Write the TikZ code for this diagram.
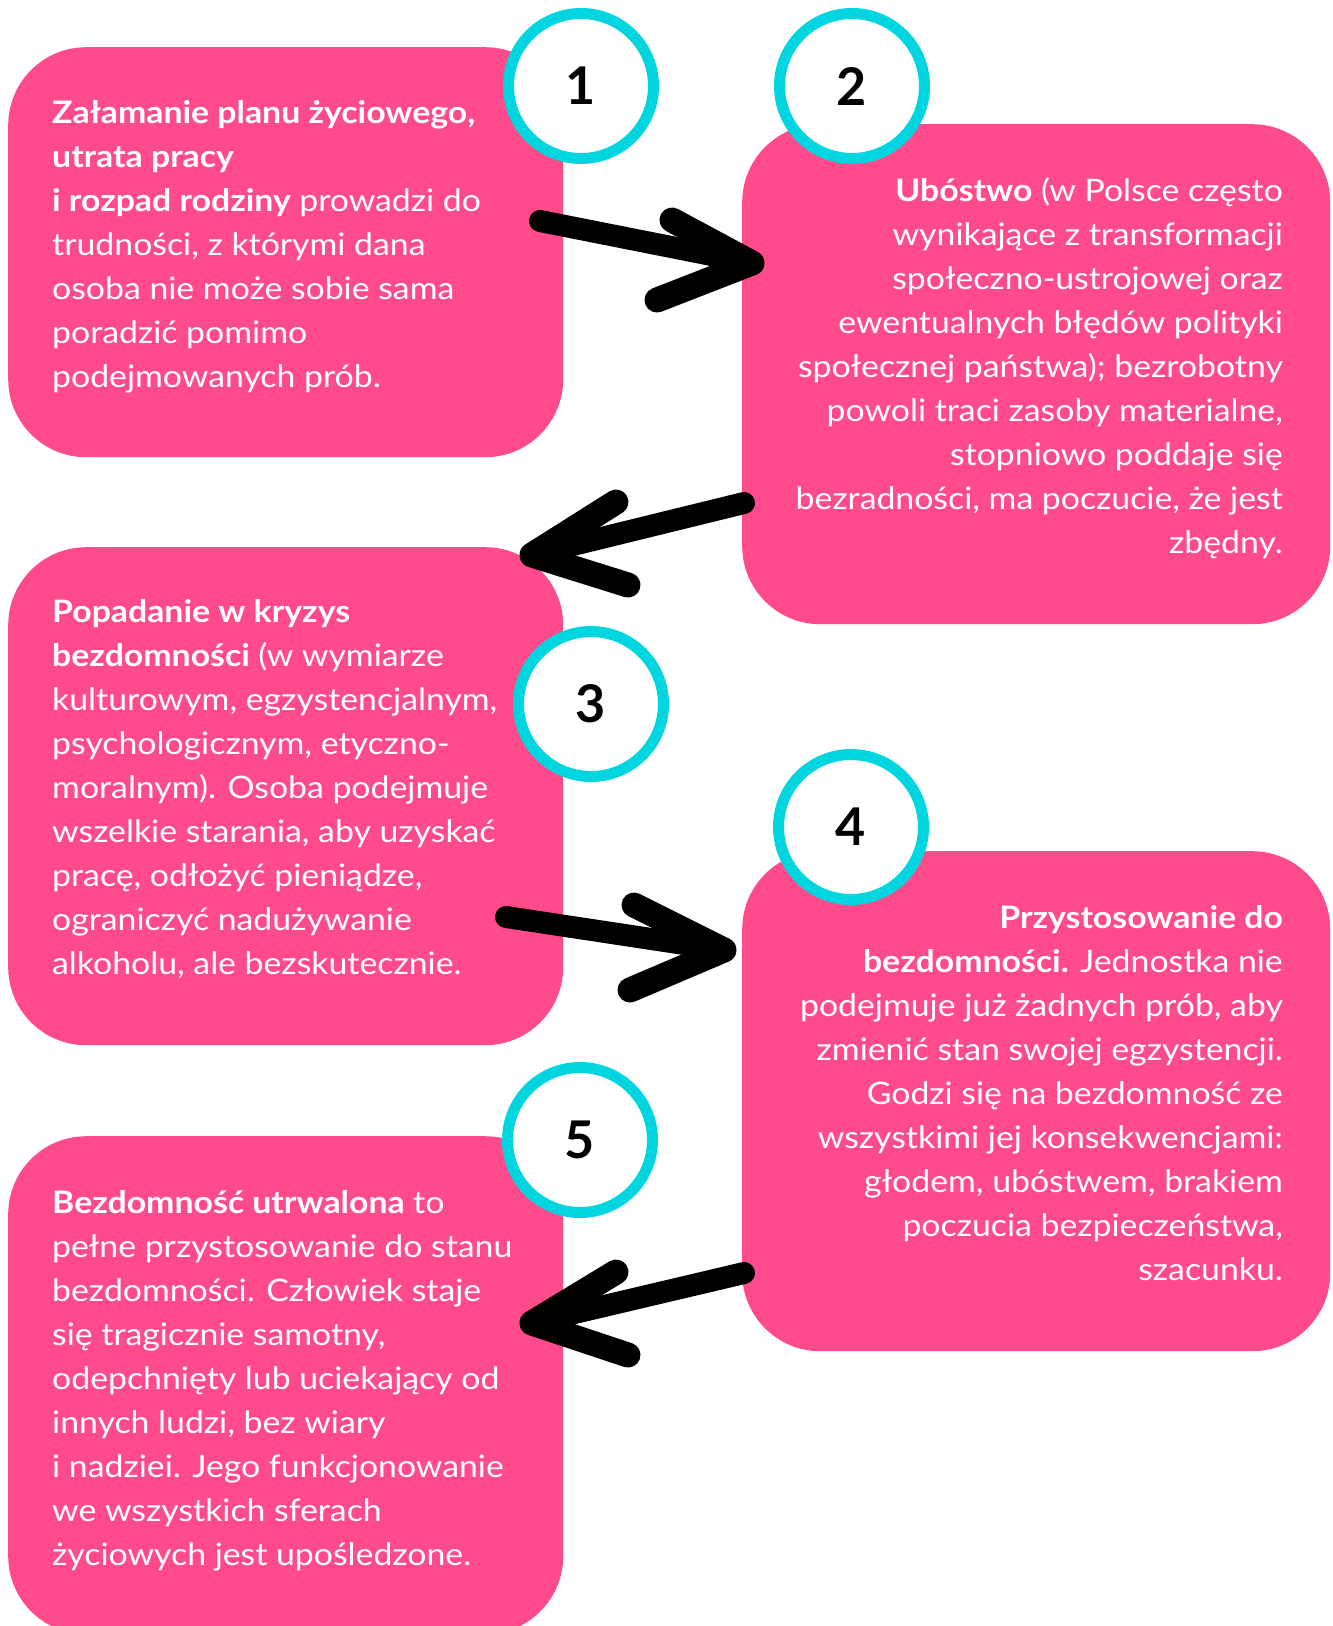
\documentclass[tikz,border=0pt]{standalone}
\usepackage{fontspec}
\setmainfont{Lato}[FakeStretch=1.09]
\newfontfamily\numfont{Lato}
\definecolor{pinkbox}{HTML}{FF4B8B}
\definecolor{ringcyan}{HTML}{00D5E0}
\begin{document}
\begin{tikzpicture}[x=1pt,y=-1pt,
 box/.style={fill=pinkbox, rounded corners=78pt, inner sep=0pt, anchor=north west},
 ring/.style={draw=ringcyan, line width=11pt, fill=white, circle, minimum size=145pt, inner sep=0pt, font=\numfont\fontsize{52}{52}\selectfont\bfseries},
 txt/.style={text=white, inner sep=0pt, font=\fontsize{31}{44}\selectfont},
 brush/.style={line width=22pt, line cap=round, line join=round, draw=black},
 brushhead/.style={line width=25pt, line cap=round, line join=round, draw=black}
]
\useasboundingbox (0,0) rectangle (1333,1626);
\clip (0,0) rectangle (1333,1626);
% boxes
\node[box, minimum width=555pt, minimum height=410pt] (b1) at (8,47) {};
\node[box, minimum width=588pt, minimum height=500pt] (b2) at (742,124) {};
\node[box, minimum width=555pt, minimum height=498pt] (b3) at (8,547) {};
\node[box, minimum width=588pt, minimum height=500pt] (b4) at (742,851) {};
\node[box, minimum width=555pt, minimum height=498pt] (b5) at (8,1136) {};
% texts (anchored at the baseline of the last line)
\node[txt, align=left, anchor=base west] (t1) at (52,387) {\textbf{Załamanie planu życiowego,}\\ \textbf{utrata pracy}\\ \textbf{i rozpad rodziny} prowadzi do\\ trudności, z którymi dana\\ osoba nie może sobie sama\\ poradzić pomimo\\ podejmowanych prób.};
\node[txt, align=right, anchor=base east] (t2) at (1283,553) {\textbf{Ubóstwo} (w Polsce często\\ wynikające z transformacji\\ społeczno-ustrojowej oraz\\ ewentualnych błędów polityki\\ społecznej państwa); bezrobotny\\ powoli traci zasoby materialne,\\ stopniowo poddaje się\\ bezradności, ma poczucie, że jest\\ zbędny.};
\node[txt, align=left, anchor=base west] (t3) at (52,974) {\textbf{Popadanie w kryzys}\\ \textbf{bezdomności} (w wymiarze\\ kulturowym, egzystencjalnym,\\ psychologicznym, etyczno-\\ moralnym). Osoba podejmuje\\ wszelkie starania, aby uzyskać\\ pracę, odłożyć pieniądze,\\ ograniczyć nadużywanie\\ alkoholu, ale bezskutecznie.};
\node[txt, align=right, anchor=base east] (t4) at (1283,1280) {\textbf{Przystosowanie do}\\ \textbf{bezdomności.} Jednostka nie\\ podejmuje już żadnych prób, aby\\ zmienić stan swojej egzystencji.\\ Godzi się na bezdomność ze\\ wszystkimi jej konsekwencjami:\\ głodem, ubóstwem, brakiem\\ poczucia bezpieczeństwa,\\ szacunku.};
\node[txt, align=left, anchor=base west] (t5) at (52,1565) {\textbf{Bezdomność utrwalona} to\\ pełne przystosowanie do stanu\\ bezdomności. Człowiek staje\\ się tragicznie samotny,\\ odepchnięty lub uciekający od\\ innych ludzi, bez wiary\\ i nadziei. Jego funkcjonowanie\\ we wszystkich sferach\\ życiowych jest upośledzone.};
% rings
\node[ring] (c1) at (581,86) {1};
\node[ring] (c2) at (852,86) {2};
\node[ring] (c3) at (591,704) {3};
\node[ring] (c4) at (851,827) {4};
\node[ring] (c5) at (580,1140) {5};
% arrows
\coordinate (a1t) at (540,221); \coordinate (a1h) at (752,263);
\coordinate (a1u) at (672,220); \coordinate (a1l) at (657,300);
\draw[brush] (a1t) -- (a1h); \draw[brushhead] (a1u) -- (a1h) -- (a1l);
\coordinate (a2t) at (744,503); \coordinate (a2h) at (532,555);
\coordinate (a2u) at (616,502); \coordinate (a2l) at (628,585);
\draw[brush] (a2t) -- (a2h); \draw[brushhead] (a2u) -- (a2h) -- (a2l);
\coordinate (a3t) at (506,917); \coordinate (a3h) at (724,950);
\coordinate (a3u) at (634,905); \coordinate (a3l) at (630,990);
\draw[brush] (a3t) -- (a3h); \draw[brushhead] (a3u) -- (a3h) -- (a3l);
\coordinate (a4t) at (744,1273); \coordinate (a4h) at (532,1323);
\coordinate (a4u) at (616,1272); \coordinate (a4l) at (628,1355);
\draw[brush] (a4t) -- (a4h); \draw[brushhead] (a4u) -- (a4h) -- (a4l);
\end{tikzpicture}
\end{document}
